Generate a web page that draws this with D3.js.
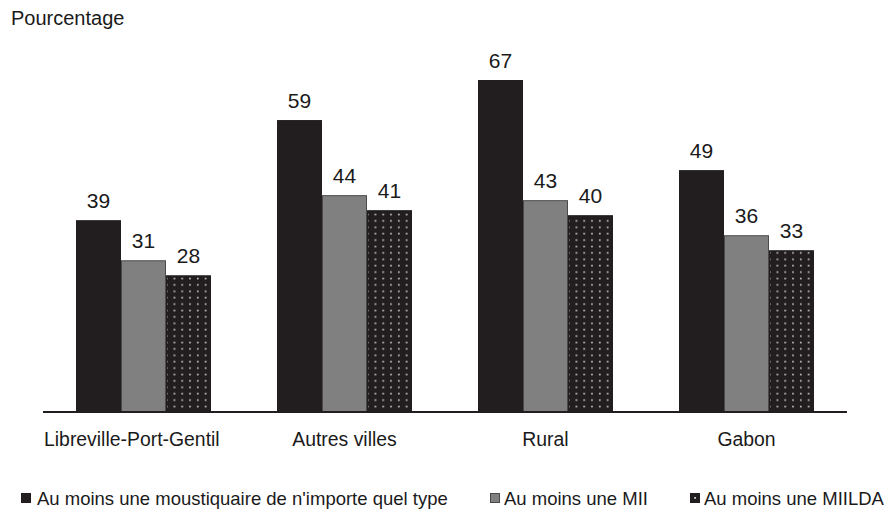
<!DOCTYPE html>
<html>
<head>
<meta charset="utf-8">
<script src="https://cdn.jsdelivr.net/npm/d3@7"></script>
<style>
  html, body { margin: 0; padding: 0; background: #fff; }
  svg { display: block; font-family: "Liberation Sans", Arial, sans-serif; }
</style>
</head>
<body>
<svg id="chart" width="884" height="518"></svg>
<script>
const categories = ["Libreville-Port-Gentil", "Autres villes", "Rural", "Gabon"];
const seriesNames = [
  "Au moins une moustiquaire de n'importe quel type",
  "Au moins une MII",
  "Au moins une MIILDA"
];
const anyNet = [39, 59, 67, 49];
const itn = [31, 44, 43, 36];
const llin = [28, 41, 40, 33];
const yTitle = "Pourcentage";

const seriesValues = [anyNet, itn, llin];

const W = 884, H = 518;
const axisLeft = 43, axisRight = 847, axisY = 412;

const svg = d3.select("#chart");
const defs = svg.append("defs");
const pat = defs.append("pattern")
  .attr("id", "dots")
  .attr("patternUnits", "userSpaceOnUse")
  .attr("width", 7.8).attr("height", 6.4)
  .attr("x", 1).attr("y", 0);
pat.append("rect").attr("width", 7.8).attr("height", 6.4).attr("fill", "#221e1f");
pat.append("rect").attr("x", 3).attr("y", 2.5).attr("width", 1.6).attr("height", 1.6).attr("fill", "#cfcfcf");

const fills = ["#221e1f", "#808080", "url(#dots)"];
const strokes = ["#221e1f", "#4a4a4a", "#221e1f"];

const x0 = d3.scaleBand().domain(categories).range([axisLeft, axisRight]).paddingInner(0).paddingOuter(0);
const x1 = d3.scaleBand().domain(d3.range(3)).range([0, 135]);
const groupOffset = (x0.bandwidth() - 135) / 2;

const y = d3.scaleLinear().domain([0, 67]).range([416, 80.5]);

// title
svg.append("text").attr("x", 11).attr("y", 25)
  .attr("font-size", 20).attr("fill", "#1a1a1a").text(yTitle);

// bars
const groups = svg.selectAll("g.grp").data(categories).enter().append("g")
  .attr("transform", d => `translate(${x0(d) + groupOffset},0)`);

groups.each(function(cat, ci) {
  const g = d3.select(this);
  seriesValues.forEach((vals, si) => {
    const v = vals[ci];
    g.append("rect")
      .attr("x", x1(si) + 0.5)
      .attr("y", y(v))
      .attr("width", x1.bandwidth() - 1)
      .attr("height", axisY - y(v))
      .attr("fill", fills[si])
      .attr("stroke", strokes[si])
      .attr("stroke-width", 1);
    g.append("text")
      .attr("x", x1(si) + x1.bandwidth() / 2)
      .attr("y", y(v) - 12.5)
      .attr("text-anchor", "middle")
      .attr("font-size", 21)
      .attr("fill", "#1a1a1a")
      .text(v);
  });
});

// axis line
svg.append("line").attr("x1", axisLeft).attr("x2", axisRight)
  .attr("y1", axisY).attr("y2", axisY)
  .attr("stroke", "#221e1f").attr("stroke-width", 2);

// category labels
svg.selectAll("text.cat").data(categories).enter().append("text")
  .attr("class", "cat")
  .attr("x", (d, i) => i === 0 ? axisLeft + 1 : x0(d) + x0.bandwidth() / 2)
  .attr("y", 446)
  .attr("text-anchor", (d, i) => i === 0 ? "start" : "middle")
  .attr("font-size", 19.4)
  .attr("fill", "#1a1a1a")
  .text(d => d);

// legend
const legendX = [21, 490, 690];
const leg = svg.selectAll("g.leg").data(seriesNames).enter().append("g")
  .attr("transform", (d, i) => `translate(${legendX[i]},0)`);
leg.append("rect")
  .attr("x", 0.5).attr("y", 493.5).attr("width", 9).attr("height", 9)
  .attr("fill", (d, i) => i === 2 ? "#221e1f" : fills[i])
  .attr("stroke", (d, i) => strokes[i]);
leg.filter((d, i) => i === 2).append("rect")
  .attr("x", 4.2).attr("y", 497).attr("width", 1.8).attr("height", 1.8).attr("fill", "#cfcfcf");
leg.append("text")
  .attr("x", (d, i) => i === 0 ? 16 : 14)
  .attr("y", 505)
  .attr("font-size", 18.5)
  .attr("fill", "#1a1a1a")
  .text(d => d);
</script>
</body>
</html>
